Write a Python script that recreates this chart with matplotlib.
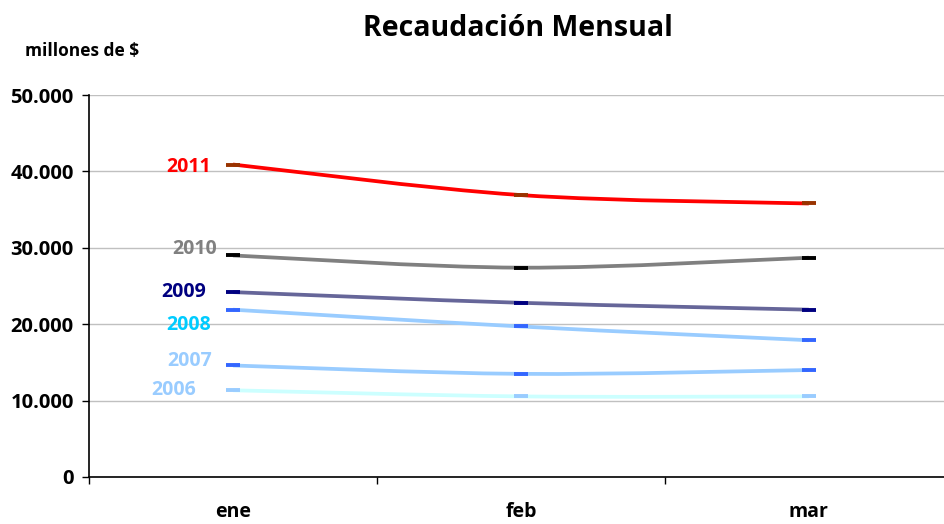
import matplotlib
matplotlib.use('Agg')
import matplotlib.pyplot as plt
from matplotlib.path import Path
from matplotlib.patches import PathPatch

plt.rcParams['font.family'] = ['Open Sans', 'DejaVu Sans']

# Data (millones de $)
meses = ['ene', 'feb', 'mar']
years = ['2011', '2010', '2009', '2008', '2007', '2006']
v2011 = [40900, 36900, 35800]
v2010 = [29000, 27400, 28700]
v2009 = [24200, 22800, 21900]
v2008 = [21900, 19700, 17900]
v2007 = [14600, 13500, 14000]
v2006 = [11350, 10550, 10550]
series = [v2011, v2010, v2009, v2008, v2007, v2006]

line_colors = ['#FF0000', '#808080', '#666699', '#99CCFF', '#99CCFF', '#CCFFFF']
marker_colors = ['#993300', '#000000', '#000080', '#3366FF', '#3366FF', '#99CCFF']
label_colors = ['#FF0000', '#808080', '#000080', '#00CCFF', '#99CCFF', '#99CCFF']
# label placement (x offset from 'ene', y position in data units)
label_x = [-0.076, -0.055, -0.093, -0.076, -0.073, -0.128]
label_y = [40600, 29800, 24250, 19900, 15200, 11400]


def smooth_path(xs, ys):
    # Excel-style smoothed line: cubic Bezier through the points
    n = len(xs)
    verts = [(xs[0], ys[0])]
    codes = [Path.MOVETO]
    for i in range(n - 1):
        p0 = (xs[max(i - 1, 0)], ys[max(i - 1, 0)])
        p1 = (xs[i], ys[i])
        p2 = (xs[i + 1], ys[i + 1])
        p3 = (xs[min(i + 2, n - 1)], ys[min(i + 2, n - 1)])
        c1 = (p1[0] + (p2[0] - p0[0]) / 6, p1[1] + (p2[1] - p0[1]) / 6)
        c2 = (p2[0] - (p3[0] - p1[0]) / 6, p2[1] - (p3[1] - p1[1]) / 6)
        verts += [c1, c2, p2]
        codes += [Path.CURVE4] * 3
    return Path(verts, codes)


fig = plt.figure(figsize=(9.44, 5.24), dpi=100)
ax = fig.add_axes([0.0943, 0.0897, 0.915, 0.729])

x = list(range(len(meses)))
for vals, lc, mc in zip(series, line_colors, marker_colors):
    ax.add_patch(PathPatch(smooth_path(x, vals), facecolor='none',
                           edgecolor=lc, lw=2.7, capstyle='butt', zorder=3))
    ax.plot(x, vals, ls='none', marker='_', ms=10, mew=2.8, color=mc, zorder=4)

for yr, vals, lx, ly, c in zip(years, series, label_x, label_y, label_colors):
    ax.text(lx, ly, yr, color=c, fontsize=14, fontweight='bold',
            ha='right', va='center')

ax.set_xlim(-0.5, 2.5)
ax.set_ylim(0, 50000)
ax.set_yticks(range(0, 50001, 10000))
ax.set_yticklabels(['0', '10.000', '20.000', '30.000', '40.000', '50.000'],
                   fontsize=14.5, fontweight='bold')
ax.set_xticks([-0.5, 0.5, 1.5])
ax.set_xticklabels([])
ax.set_xticks(x, minor=True)
ax.set_xticklabels(meses, minor=True, fontsize=14, fontweight='bold')
ax.tick_params(axis='x', which='minor', length=0, pad=18)
ax.tick_params(axis='x', which='major', length=5, width=1, direction='out')
ax.tick_params(axis='y', length=5, width=1, direction='out', pad=6)

ax.grid(axis='y', color='#C0C0C0', lw=1)
ax.set_axisbelow(True)
for s in ['top', 'right']:
    ax.spines[s].set_visible(False)
for s in ['left', 'bottom']:
    ax.spines[s].set_color('#000000')
    ax.spines[s].set_linewidth(1.2)

fig.text(0.549, 0.945, 'Recaudación Mensual', ha='center', va='center',
         fontsize=20.5, fontweight='bold')
fig.text(0.026, 0.902, 'millones de $', ha='left', va='center',
         fontsize=12.5, fontweight='bold')

fig.savefig('out.png', dpi=100)
